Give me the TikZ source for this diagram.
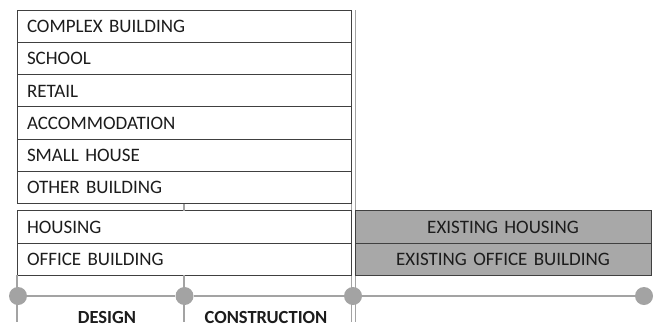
\documentclass[tikz,border=0pt]{standalone}
\usepackage{fontspec}
\setmainfont{Carlito}
\usepackage{xcolor}
\usepackage{tikz}
\usetikzlibrary{positioning}

\definecolor{boxline}{HTML}{404040}
\definecolor{railgray}{HTML}{A3A3A3}
\definecolor{oldfill}{HTML}{A8A8A8}
\definecolor{inktext}{HTML}{1C1C1C}

\begin{document}
\begin{tikzpicture}[
  x=1pt, y=-1pt,
  font=\fontsize{19}{22}\selectfont, text=inktext,
  row/.style={draw=boxline, line width=1pt, fill=white, align=left,
              text width=314pt, inner xsep=10pt, inner ysep=0pt, outer sep=0pt,
              minimum height=32.3pt, text height=12.5pt, text depth=0pt},
  oldrow/.style={row, fill=oldfill, align=center, text width=276pt},
  rail/.style={draw=railgray, line width=1.2pt},
  dot/.style={circle, fill=railgray, inner sep=0pt, minimum size=18pt},
  phase/.style={font=\fontsize{18.5}{22}\selectfont\bfseries, inner sep=0pt,
                text height=12pt, text depth=0pt},
]
\useasboundingbox (0,0) rectangle (660,327);

% double rule between new and existing
\coordinate (t3) at (353,10);
\coordinate (b3) at (353,322);
\draw[rail, line width=1pt, double=white, double distance=3pt] (t3) -- (b3);

% new building types
\node[row, anchor=north west] (complex) at (17,10) {COMPLEX BUILDING};
\node[row, below=0pt of complex] (school) {SCHOOL};
\node[row, below=0pt of school]  (retail) {RETAIL};
\node[row, below=0pt of retail]  (accom)  {ACCOMMODATION};
\node[row, below=0pt of accom]   (small)  {SMALL HOUSE};
\node[row, below=0pt of small]   (other)  {OTHER BUILDING};
\node[row, below=7pt of other]   (housing) {HOUSING};
\node[row, below=0pt of housing] (office)  {OFFICE BUILDING};

% existing stock
\node[oldrow, right=4pt of housing] (exhousing) {EXISTING HOUSING};
\node[oldrow, below=0pt of exhousing] (exoffice) {EXISTING OFFICE BUILDING};

% timeline
\coordinate (b1) at (17,322);
\coordinate (b2) at (184,322);
\draw[rail] (other.south) -- (housing.north);
\draw[rail] (office.south west) -- (b1);
\draw[rail] (office.south) -- (b2);

\node[dot] (d1) at (18,296) {};
\node[dot] (d2) at (184.5,296) {};
\node[dot] (d3) at (353,296) {};
\node[dot] (d4) at (644,296) {};
\draw[rail] (d1) -- (d2);
\draw[rail] (d2) -- (d3);
\draw[rail] (d3) -- (d4);

\node[phase] (design) at (107,317) {DESIGN};
\node[phase] (constr) at (266,317) {CONSTRUCTION};
\end{tikzpicture}
\end{document}
